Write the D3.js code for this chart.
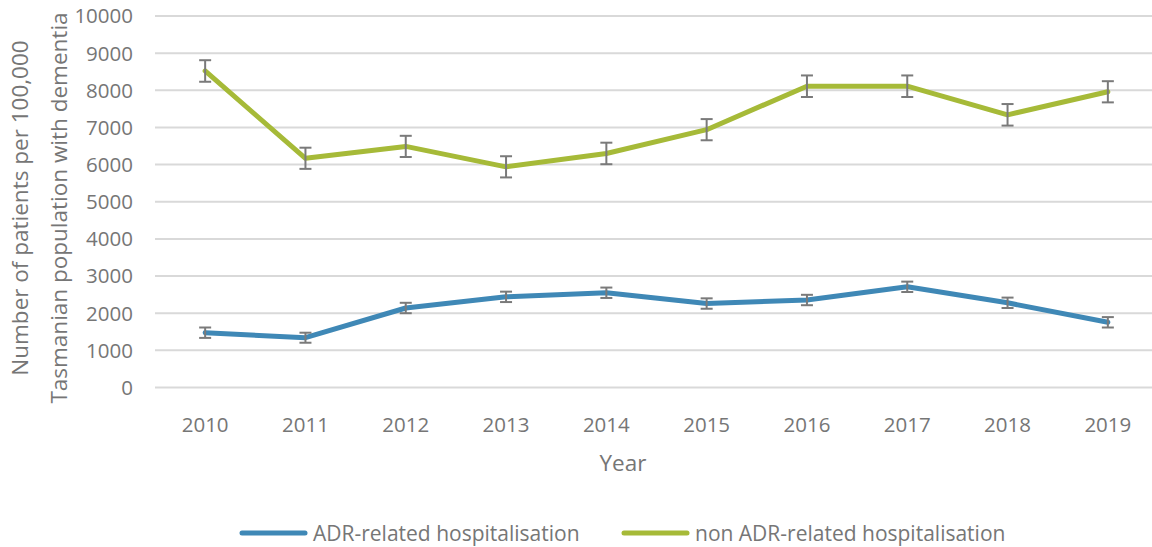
<!DOCTYPE html>
<html lang="en">
<head>
  <meta charset="UTF-8">
  <script src="https://d3js.org/d3.v7.min.js"></script>
  <title>ADR-related hospitalisation</title>
  <style>
    body {
      margin: 0;
      font-family: "Open Sans", sans-serif;
      background: #fff;
    }
    text {
      fill: #767676;
    }
    .grid line {
      stroke: #d9d9d9;
      stroke-width: 2px;
    }
  </style>
</head>
<body>
  <svg id="chart" width="1152" height="547"></svg>

  <script>
    const years = ["2010", "2011", "2012", "2013", "2014", "2015", "2016", "2017", "2018", "2019"];
    const yTicks = [0, 1000, 2000, 3000, 4000, 5000, 6000, 7000, 8000, 9000, 10000];

    const adrValues = [1475, 1340, 2140, 2440, 2550, 2260, 2355, 2710, 2280, 1755];
    const adrErrors = [140, 135, 140, 140, 140, 140, 140, 140, 140, 140];

    const nonAdrValues = [8520, 6170, 6490, 5940, 6300, 6940, 8110, 8110, 7340, 7960];
    const nonAdrErrors = [290, 285, 285, 285, 290, 285, 290, 290, 290, 285];

    const seriesNames = ["ADR-related hospitalisation", "non ADR-related hospitalisation"];
    const seriesColors = ["#3f88b6", "#a6ba38"];

    const width = 1152;
    const height = 547;
    const plotLeft = 155;
    const plotTop = 16;
    const plotBottom = 387.5;

    const svg = d3.select("#chart");

    const x = d3.scaleBand()
      .domain(years)
      .range([plotLeft, plotLeft + 100.3 * years.length]);

    const y = d3.scaleLinear()
      .domain([0, 10000])
      .range([plotBottom, plotTop]);

    // gridlines
    svg.append("g")
      .attr("class", "grid")
      .selectAll("line")
      .data(yTicks)
      .join("line")
      .attr("x1", plotLeft)
      .attr("x2", width)
      .attr("y1", d => y(d))
      .attr("y2", d => y(d));

    // y axis labels
    svg.append("g")
      .selectAll("text")
      .data(yTicks)
      .join("text")
      .attr("x", 133)
      .attr("y", d => y(d))
      .attr("dy", "0.36em")
      .attr("text-anchor", "end")
      .attr("font-size", 20.5)
      .text(d => d);

    // x axis labels
    svg.append("g")
      .selectAll("text")
      .data(years)
      .join("text")
      .attr("x", d => x(d) + x.bandwidth() / 2)
      .attr("y", 425)
      .attr("dy", "0.36em")
      .attr("text-anchor", "middle")
      .attr("font-size", 20.5)
      .text(d => d);

    svg.append("text")
      .attr("x", 623)
      .attr("y", 463)
      .attr("dy", "0.36em")
      .attr("text-anchor", "middle")
      .attr("font-size", 22.5)
      .text("Year");

    const yTitle = svg.append("text")
      .attr("transform", `translate(0, 208) rotate(-90)`)
      .attr("text-anchor", "middle")
      .attr("font-size", 22.5);
    yTitle.append("tspan").attr("x", 0).attr("y", 28).text("Number of patients per 100,000");
    yTitle.append("tspan").attr("x", 0).attr("y", 67).text("Tasmanian population with dementia");

    const cx = d => x(d) + x.bandwidth() / 2;

    const series = [
      { values: adrValues, errors: adrErrors },
      { values: nonAdrValues, errors: nonAdrErrors }
    ];

    const line = d3.line()
      .x(d => cx(d.year))
      .y(d => y(d.value));

    series.forEach((s, si) => {
      const pts = years.map((yr, i) => ({ year: yr, value: s.values[i], err: s.errors[i] }));

      svg.append("path")
        .datum(pts)
        .attr("fill", "none")
        .attr("stroke", seriesColors[si])
        .attr("stroke-width", 5)
        .attr("stroke-linejoin", "round")
        .attr("stroke-linecap", "round")
        .attr("d", line);

      // error bars
      const eb = svg.append("g")
        .attr("stroke", "#7a7a7a")
        .attr("stroke-width", 2);

      eb.selectAll(".stem")
        .data(pts)
        .join("line")
        .attr("x1", d => cx(d.year))
        .attr("x2", d => cx(d.year))
        .attr("y1", d => y(d.value + d.err))
        .attr("y2", d => y(d.value - d.err));

      eb.selectAll(".capTop")
        .data(pts)
        .join("line")
        .attr("x1", d => cx(d.year) - 6)
        .attr("x2", d => cx(d.year) + 6)
        .attr("y1", d => y(d.value + d.err))
        .attr("y2", d => y(d.value + d.err));

      eb.selectAll(".capBottom")
        .data(pts)
        .join("line")
        .attr("x1", d => cx(d.year) - 6)
        .attr("x2", d => cx(d.year) + 6)
        .attr("y1", d => y(d.value - d.err))
        .attr("y2", d => y(d.value - d.err));
    });

    // legend
    const legendX = [242, 624];
    seriesNames.forEach((name, i) => {
      const g = svg.append("g").attr("transform", `translate(${legendX[i]}, 533)`);
      g.append("line")
        .attr("x1", 0)
        .attr("x2", 63)
        .attr("stroke", seriesColors[i])
        .attr("stroke-width", 5)
        .attr("stroke-linecap", "round");
      g.append("text")
        .attr("x", 71)
        .attr("dy", "0.36em")
        .attr("font-size", 21)
        .text(name);
    });
  </script>
</body>
</html>
